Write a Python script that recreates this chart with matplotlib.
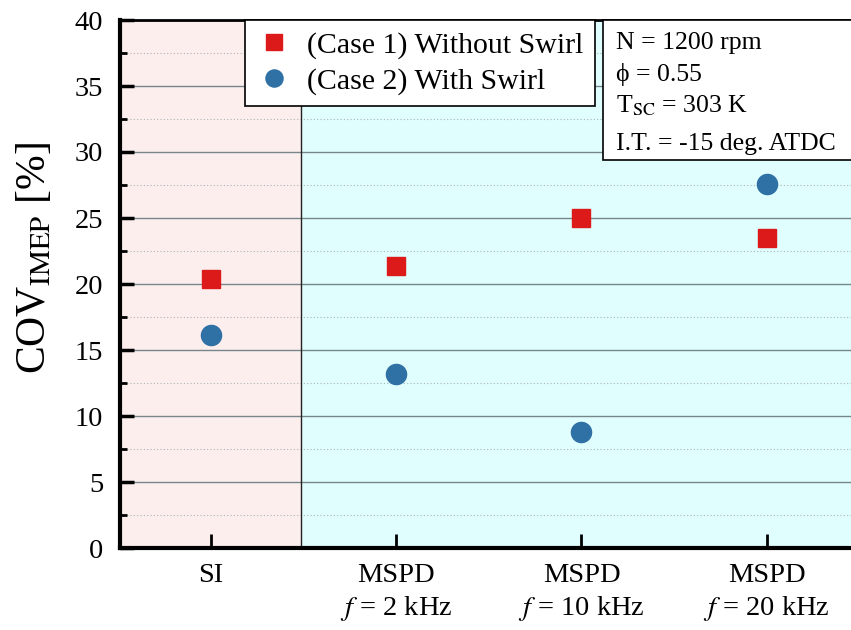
import matplotlib
matplotlib.use("Agg")
import matplotlib.pyplot as plt
from matplotlib.patches import Rectangle
from matplotlib.ticker import MultipleLocator

plt.rcParams['font.family'] = ['Liberation Serif', 'DejaVu Serif']
plt.rcParams['mathtext.fontset'] = 'stix'

# Data
categories = ["SI", "MSPD\n$f$ = 2 kHz", "MSPD\n$f$ = 10 kHz", "MSPD\n$f$ = 20 kHz"]
cov_without_swirl = [20.4, 21.4, 25.0, 23.5]
cov_with_swirl = [16.1, 13.2, 8.8, 27.6]
conditions = ["N = 1200 rpm", "\u03d5 = 0.55", r"T$_{\mathrm{SC}}$ = 303 K", "I.T. = -15 deg. ATDC"]

fig = plt.figure(figsize=(8.51, 6.30), dpi=100)
ax = fig.add_axes([120 / 851, 82 / 630, 745 / 851, 528 / 630])

x = list(range(len(categories)))
ax.set_xlim(-0.49, 3.53)
ax.set_ylim(0, 40)

# Shaded regions: spark ignition vs. multi-spark plasma discharge
ax.axvspan(-0.49, 0.485, color="#fdeeee", zorder=0, lw=0)
ax.axvspan(0.485, 3.53, color="#e0fefe", zorder=0, lw=0)
ax.axvline(0.485, color="#222222", lw=1.0, zorder=1)

# Grid
ax.yaxis.set_major_locator(MultipleLocator(5))
ax.yaxis.set_minor_locator(MultipleLocator(2.5))
ax.grid(axis="y", which="major", color="#76868a", lw=1.0, zorder=1)
ax.grid(axis="y", which="minor", color="#aab4b6", lw=0.8, ls=(0, (1, 2)), zorder=1)
ax.set_axisbelow(True)

ax.plot(x, cov_without_swirl, ls="none", marker="s", ms=13, color="#dd1a1a",
        mec="#dd1a1a", label="(Case 1) Without Swirl", zorder=3)
ax.plot(x, cov_with_swirl, ls="none", marker="o", ms=14.5, color="#2f70a5",
        mec="#2f70a5", label="(Case 2) With Swirl", zorder=3)

ax.set_xticks(x)
ax.set_xticklabels(categories, fontsize=20.5, linespacing=1.25)
ax.tick_params(axis="x", direction="in", length=10, width=2, pad=11)
ax.tick_params(axis="y", which="major", direction="in", length=10, width=2.5, labelsize=20.5, pad=12)
ax.tick_params(axis="y", which="minor", direction="in", length=5, width=2)

for side in ("left", "bottom"):
    ax.spines[side].set_linewidth(3)
ax.spines["top"].set_linewidth(2)
ax.spines["right"].set_visible(False)

ax.set_ylabel(r"COV$_{\mathrm{IMEP}}$ [%]", fontsize=30)
ax.yaxis.set_label_coords((54 - 120) / 745, (548 - 258) / 528)

leg = ax.legend(loc="upper left", bbox_to_anchor=((245 - 120) / 745, 1.0),
                borderaxespad=0, fancybox=False, framealpha=1, edgecolor="black",
                fontsize=21.5, handletextpad=0.55, handlelength=1.15, borderpad=0.38,
                labelspacing=0.3, markerscale=0.85)
leg.get_frame().set_linewidth(1.2)
leg.set_zorder(5)

# Operating conditions box
box_x0 = (603 - 120) / 745
box_y0 = (548 - 160) / 528
ax.add_patch(Rectangle((box_x0, box_y0), 1.2, 1.0 - box_y0, transform=ax.transAxes,
                       facecolor="white", edgecolor="black", lw=1.2, zorder=6, clip_on=False))
line_y = [43, 75, 106, 144]
for txt, yy in zip(conditions, line_y):
    ax.text((616 - 120) / 745, (548 - yy) / 528, txt, transform=ax.transAxes,
            fontsize=18.5, va="center", ha="left", zorder=7)

fig.savefig("out.png", dpi=100)
